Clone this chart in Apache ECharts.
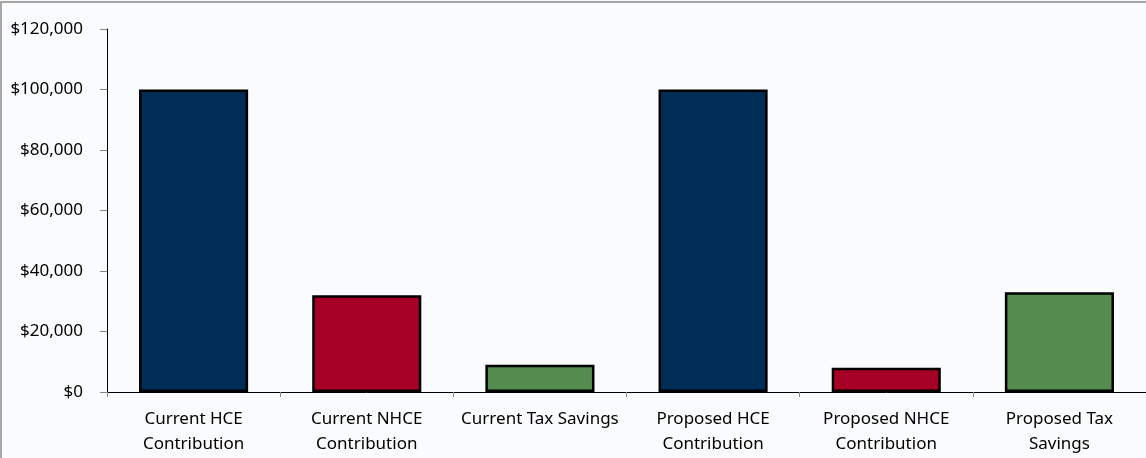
<!DOCTYPE html>
<html>
<head>
<meta charset="utf-8">
<script src="https://cdn.jsdelivr.net/npm/echarts@6/dist/echarts.min.js"></script>
<style>
  html, body { margin: 0; padding: 0; background: #fafbfd; }
  #main { width: 1146px; height: 458px; }
</style>
</head>
<body>
<div id="main"></div>
<script>
var categories = ['Current HCE\nContribution', 'Current NHCE\nContribution', 'Current Tax Savings',
  'Proposed HCE\nContribution', 'Proposed NHCE\nContribution', 'Proposed Tax\nSavings']
var amounts = [100000, 32000, 9000, 100000, 8000, 33000]
var barColors = ['#002d56', '#a60027', '#548c50', '#002d56', '#a60027', '#548c50']
var yTicks = { min: 0, max: 120000, interval: 20000 }

var myChart = echarts.init(document.getElementById('main'))

var option = {
  backgroundColor: '#fafbfd',
  animation: false,
  textStyle: { fontFamily: 'Noto Sans' },
  graphic: [{
    type: 'rect',
    shape: { x: 1, y: 2, width: 1160, height: 470 },
    style: { fill: 'none', stroke: '#8a8a8a', lineWidth: 1.5 },
    silent: true
  }],
  grid: { left: 107, top: 29, width: 1040, height: 363 },
  xAxis: {
    type: 'category',
    data: categories,
    axisLine: { lineStyle: { color: '#000', width: 1 } },
    axisTick: { show: true, length: 5, lineStyle: { color: '#888' } },
    axisLabel: { color: '#000', fontSize: 17, lineHeight: 25, margin: 15, interval: 0 }
  },
  yAxis: {
    type: 'value',
    min: yTicks.min,
    max: yTicks.max,
    interval: yTicks.interval,
    axisLine: { show: true, lineStyle: { color: '#000', width: 1 } },
    axisTick: { show: true, length: 7, lineStyle: { color: '#888' } },
    splitLine: { show: false },
    axisLabel: {
      color: '#000', fontSize: 17, margin: 24,
      formatter: function (v) { return '$' + v.toLocaleString('en-US') }
    }
  },
  series: [{
    type: 'bar',
    barWidth: '63%',
    data: amounts.map(function (v, i) {
      return { value: v, itemStyle: { color: barColors[i] } }
    }),
    itemStyle: { borderColor: '#000', borderWidth: 2.5 }
  }]
}

myChart.setOption(option)
</script>
</body>
</html>
